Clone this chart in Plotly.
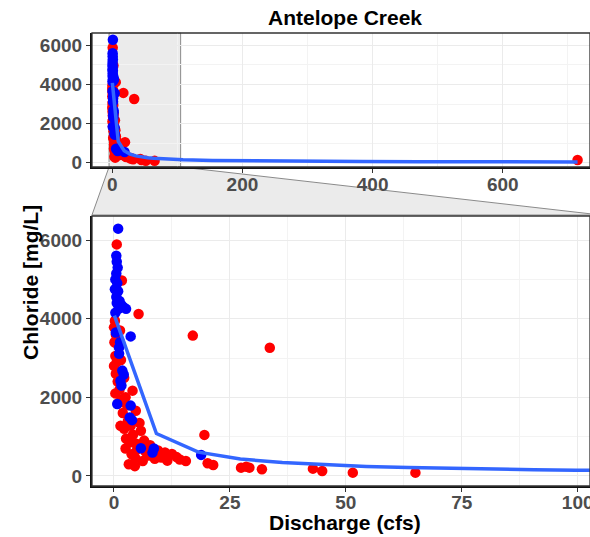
import plotly.graph_objects as go

# ---------------- data ----------------
red_x = [0.6, 1.7, 5.3, 17.0, 33.6, 0.2, 1.3, 0.0, 0.4, 0.1, 1.0, 0.3, 0.6, 0.0, 1.5,
         0.4, 2.2, 0.8, 1.2, 0.3, 2.5, 4.0, 1.6, 0.9, 2.8, 4.7, 1.9, 3.0, 5.5, 1.4,
         3.6, 2.2, 5.8, 4.1, 2.6, 6.5, 3.3, 4.8, 7.8, 2.5, 5.0, 6.8, 9.5, 11.0, 3.8,
         7.5, 12.5, 4.6, 10.2, 13.5, 14.2, 15.5, 6.2, 8.8, 3.2, 4.5, 11.5, 19.5, 20.2,
         21.4, 27.4, 28.5, 29.2, 31.9, 42.9, 44.9, 51.5, 65.0, 715.0]
red_y = [5890, 4970, 4120, 3570, 3260, 3950, 3700, 3780, 3600, 3400, 3300, 3050, 2900, 2800, 2950,
         2600, 2500, 2400, 2200, 2100, 2000, 2170, 1950, 1850, 1800, 1660, 1600, 1400, 1350, 1275,
         1275, 1200, 1150, 1050, 950, 900, 850, 820, 780, 700, 680, 620, 650, 600, 550,
         520, 560, 460, 470, 480, 420, 380, 380, 440, 300, 250, 390, 1045, 324,
         280, 212, 237, 212, 170, 186, 128, 85, 85, 130]

blue_x = [0.9, 0.5, 0.6, 0.8, 0.5, 0.3, 0.7, 0.2, 0.9, 0.5, 1.2, 0.6, 2.0, 1.0, 0.3,
          1.6, 2.6, 0.4, 3.6, 1.1, 1.1, 1.8, 1.4, 2.1, 0.7, 3.6, 3.4, 3.9, 5.8, 8.3,
          8.6, 18.8, 1.3, 1.6]
blue_y = [6290, 5600, 5450, 5300, 5150, 5000, 4900, 4750, 4700, 4550, 4450, 4400, 4300, 4250, 4150,
          4350, 4250, 3650, 3550, 3270, 3110, 2680, 2420, 2580, 1830, 1790, 1490, 1420, 707, 594,
          700, 536, 3400, 2300]

fit_x = [0.1, 9.15, 18.2, 27.25, 36.3, 45.35, 54.4, 63.45, 72.5, 81.55, 90.6, 99.65,
         108.7, 153.9, 199.2, 289.7, 380.2, 470.7, 561.2, 651.7, 715.0]
fit_y = [4080, 1080, 607, 433, 340, 282, 242, 213, 190, 173, 158, 146,
         136, 101, 82, 60, 48, 40, 34, 30, 28]

y_ticks = [0, 2000, 4000, 6000]
top_x_ticks = [0, 200, 400, 600]
bot_x_ticks = [0, 25, 50, 75, 100]

# ---------------- figure ----------------
W, H = 590, 537
def px(x):
    return x / W
def py(y):
    return 1 - y / H

RED = "#FF0000"
BLUE = "#0000FF"
LINE = "#3366FF"

fig = go.Figure()
for xa, ya in (("x", "y"), ("x2", "y2")):
    fig.add_trace(go.Scatter(x=red_x, y=red_y, mode="markers", xaxis=xa, yaxis=ya,
                             marker=dict(color=RED, size=10.5, line=dict(width=0)),
                             showlegend=False))
    fig.add_trace(go.Scatter(x=blue_x, y=blue_y, mode="markers", xaxis=xa, yaxis=ya,
                             marker=dict(color=BLUE, size=10.5, line=dict(width=0)),
                             showlegend=False))
    fig.add_trace(go.Scatter(x=fit_x, y=fit_y, mode="lines", xaxis=xa, yaxis=ya,
                             line=dict(color=LINE, width=3.5),
                             showlegend=False))

tickfont = dict(family="Liberation Sans, Arial", size=19, color="#4d4d4d", weight="bold")

def axis_style(tickvals, minor_dtick, rng, domain, anchor, standoff=0):
    return dict(
        range=rng, domain=domain, anchor=anchor, automargin=False,
        tickmode="array", tickvals=tickvals, ticktext=[str(v) for v in tickvals],
        showgrid=True, gridcolor="#ebebeb", gridwidth=1,
        minor=dict(showgrid=True, gridcolor="#f3f3f3", gridwidth=0.7, dtick=minor_dtick, tick0=0),
        zeroline=False, showline=True, linecolor="#111", linewidth=2.2,
        ticks="outside", ticklen=4, tickwidth=1.3, tickcolor="#333",
        tickfont=tickfont, ticklabeloverflow="allow", ticklabelstandoff=standoff,
    )

xdom = [px(92), 1.0]
top_dom = [py(167), py(33)]
bot_dom = [py(486), py(216)]

fig.update_layout(
    width=W, height=H,
    margin=dict(l=0, r=0, t=0, b=0, autoexpand=False),
    paper_bgcolor="white", plot_bgcolor="white",
    xaxis=axis_style(top_x_ticks, 100, [-31.2, 734.1], xdom, "y", standoff=-5),
    yaxis=axis_style(y_ticks, 1000, [-230, 6640], top_dom, "x"),
    xaxis2=axis_style(bot_x_ticks, 12.5, [-4.74, 102.65], xdom, "y2", standoff=-6),
    yaxis2=axis_style(y_ticks, 1000, [-255, 6612], bot_dom, "x2"),
)

shapes = []
# zoom shading in top panel
shapes.append(dict(type="rect", xref="x", yref="y domain", x0=-5, x1=105, y0=0, y1=1,
                   fillcolor="#ebebeb", line=dict(color="#8a8a8a", width=1), layer="below"))
# connector trapezoid
x_l = 112.3 + (-5) * 0.6507
x_r = 112.3 + 105 * 0.6507
path = "M {:.4f},{:.4f} L {:.4f},{:.4f} L {:.4f},{:.4f} L {:.4f},{:.4f} Z".format(
    px(x_l), py(167), px(x_r), py(167), px(601), py(215), px(92), py(215))
shapes.append(dict(type="path", xref="paper", yref="paper", path=path,
                   fillcolor="#ebebeb", line=dict(color="#8a8a8a", width=1), layer="below"))
# panel borders
for xr, yr in (("x domain", "y domain"), ("x2 domain", "y2 domain")):
    shapes.append(dict(type="rect", xref=xr, yref=yr, x0=0, x1=1, y0=0, y1=1,
                       line=dict(color="#333", width=1.3), fillcolor="rgba(0,0,0,0)", layer="above"))
fig.update_layout(shapes=shapes)

titlefont = dict(family="Liberation Sans, Arial", size=21, color="black", weight="bold")
fig.add_annotation(text="Antelope Creek", x=px(345), y=py(18), xref="paper", yref="paper",
                   showarrow=False, font=titlefont, xanchor="center", yanchor="middle")
fig.add_annotation(text="Discharge (cfs)", x=px(345), y=py(522), xref="paper", yref="paper",
                   showarrow=False, font=titlefont, xanchor="center", yanchor="middle")
fig.add_annotation(text="Chloride [mg/L]", x=px(30), y=py(283), xref="paper", yref="paper",
                   showarrow=False, font=titlefont, textangle=-90, xanchor="center", yanchor="middle")

fig.write_html("out.html", config={"displayModeBar": False},
               post_script="document.body.style.margin='0';document.body.style.overflow='hidden';")
